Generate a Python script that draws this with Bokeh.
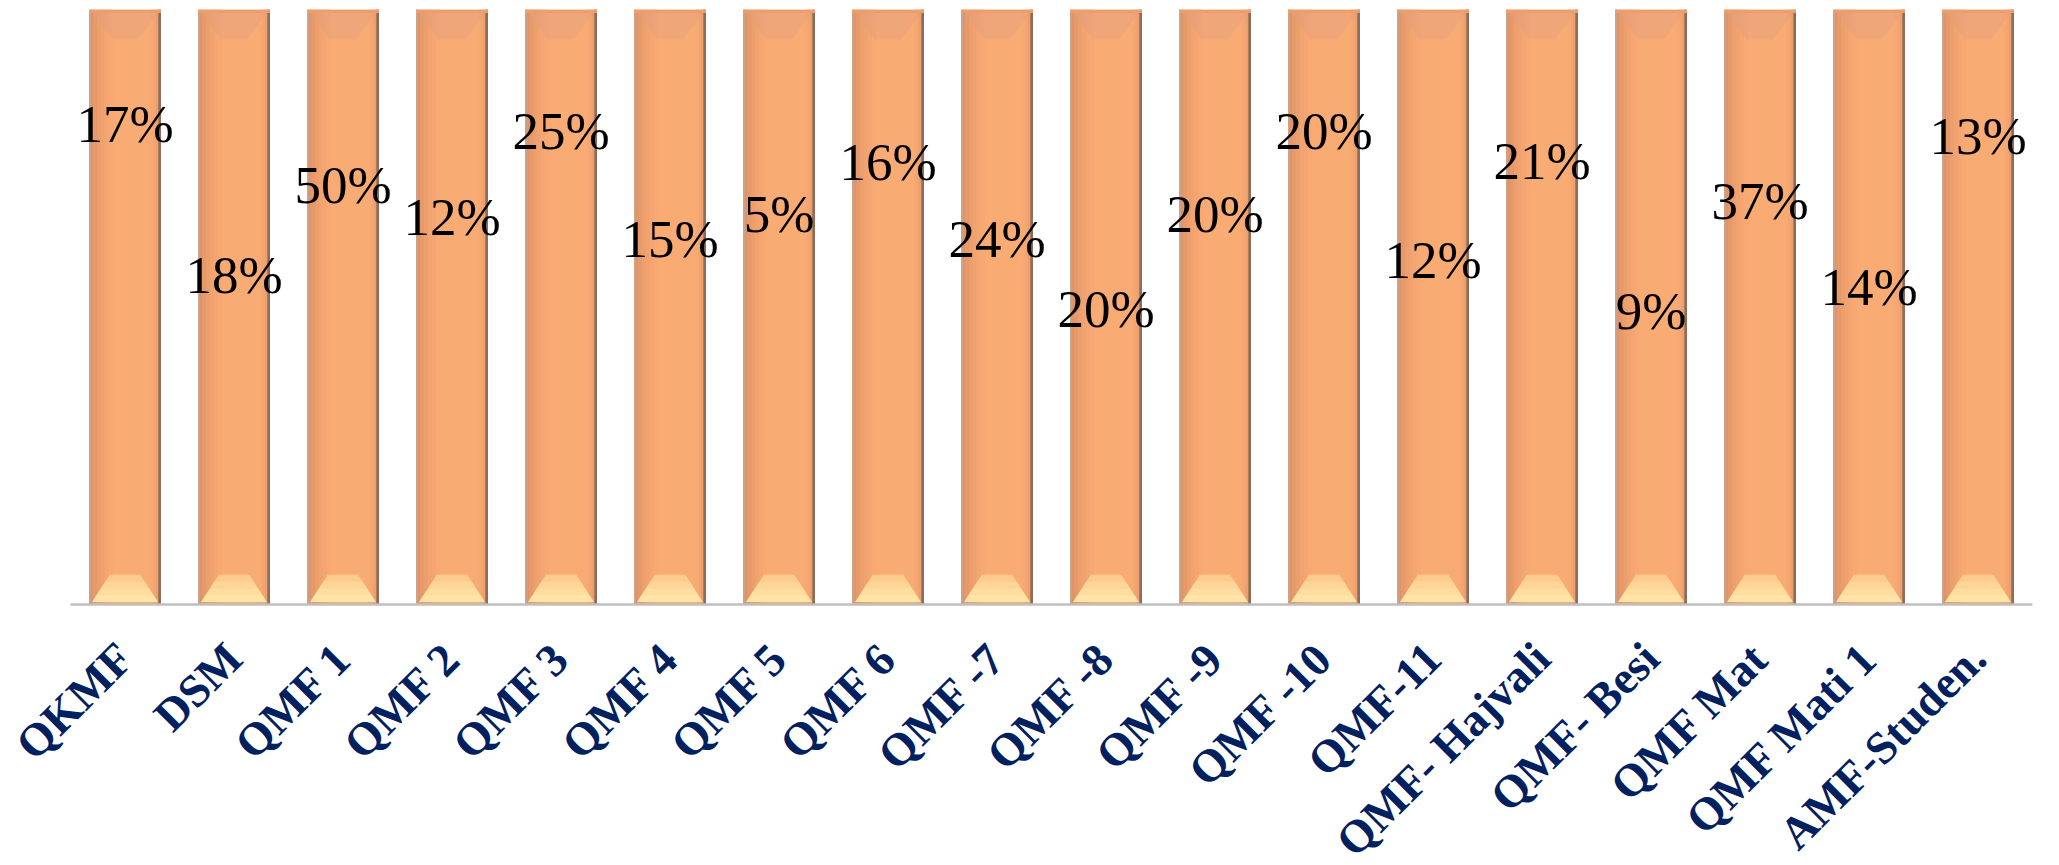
import math
from bokeh.plotting import figure
from bokeh.models import ColumnDataSource, Range1d, FixedTicker
from bokeh.core.properties import value
from bokeh.embed import file_html
from bokeh.resources import INLINE

# ---------------- data ----------------
categories = ["QKMF", "DSM", "QMF 1", "QMF 2", "QMF 3", "QMF 4", "QMF 5", "QMF 6",
              "QMF -7", "QMF -8", "QMF -9", "QMF -10", "QMF-11", "QMF- Hajvali",
              "QMF- Besi", "QMF Mat", "QMF Mati 1", "AMF-Studen."]
bar_values = [100] * 18                      # every bar is full (100 %)
label_values = [17, 18, 50, 12, 25, 15, 5, 16, 24, 20, 20, 20, 12, 21, 9, 37, 14, 13]
label_height = [80.8, 55.4, 70.5, 65.2, 79.5, 61.4, 65.7, 74.4, 61.4, 49.7,
                65.7, 79.6, 57.9, 74.6, 49.3, 67.8, 53.4, 78.8]   # % of bar height

# ---------------- derived ----------------
n = len(categories)
xs = list(range(n))
tops = [v / 100 for v in bar_values]
BW = 0.66

p = figure(frame_width=1962, frame_height=595, output_backend="svg", toolbar_location=None,
           x_range=Range1d(-0.5, n - 0.5), y_range=Range1d(0, 1.0),
           min_border_left=70, min_border_right=14, min_border_top=9,
           min_border_bottom=0)
p.outline_line_color = None
p.background_fill_color = "white"
p.border_fill_color = "white"
p.xgrid.visible = False
p.ygrid.visible = False
p.yaxis.visible = False

# main bar body with a soft horizontal gradient made of strips
base = ColumnDataSource(dict(x=xs, top=tops))
p.vbar(x="x", top="top", bottom=0, width=BW, source=base,
       fill_color="#F9AB74", line_color=None)

strip_cols = ["#E0946A", "#E6996B", "#EC9E6D", "#F0A26F", "#F4A571", "#F7A873"]
k = len(strip_cols)
sw = BW * 0.33 / k
for j, c in enumerate(strip_cols):
    sx = [x - BW / 2 + sw * (j + 0.5) for x in xs]
    p.vbar(x=sx, top=tops, bottom=0, width=sw, fill_color=c, line_color=None)
rcols = ["#F7A973", "#F3A470", "#EC9E6D", "#E4976A"]
rw = BW * 0.14 / len(rcols)
for j, c in enumerate(rcols):
    sx = [x + BW / 2 - BW * 0.14 + rw * (j + 0.5) for x in xs]
    p.vbar(x=sx, top=tops, bottom=0, width=rw, fill_color=c, line_color=None)

# top bevel (slightly darker) and bottom bevel (light, graded)
top_xs, top_ys = [], []
for x, t in zip(xs, tops):
    top_xs.append([x - BW / 2 + 0.03, x + BW / 2 - 0.03, x + 0.12, x - 0.12])
    top_ys.append([t - 0.006, t - 0.006, t - 0.05, t - 0.05])
p.patches(top_xs, top_ys, fill_color="#E3A07E", fill_alpha=0.45, line_color=None)

bev_cols = ["#FCCB8E", "#FDD596", "#FEDD9E", "#FFE4A8"]
for j, c in enumerate(bev_cols):
    f = j / len(bev_cols)
    hw_bot = BW / 2 - 0.03
    hw_top = 0.14
    y0 = 0.004
    y1 = 0.05 * (1 - f) + y0 * f
    hw1 = hw_top + (hw_bot - hw_top) * f
    bx = [[x - hw_bot, x + hw_bot, x + hw1, x - hw1] for x in xs]
    by = [[y0, y0, y1, y1] for _ in xs]
    p.patches(bx, by, fill_color=c, line_color=None)

# edges
p.vbar(x=[x - BW / 2 + 0.008 for x in xs], top=tops, bottom=0, width=0.016,
       fill_color="#C7A58C", line_color=None)
p.vbar(x=[x + BW / 2 - 0.012 for x in xs], top=tops, bottom=0, width=0.024,
       fill_color="#8C6C56", line_color=None)
p.vbar(x=xs, top=tops, bottom=[t - 0.006 for t in tops], width=BW,
       fill_color="#EE9E6C", line_color=None)

# data labels
lab = ColumnDataSource(dict(x=xs, y=[h / 100 for h in label_height],
                            t=[f"{v}%" for v in label_values]))
p.text(x="x", y="y", text="t", source=lab, text_font=value("Liberation Serif"),
       text_font_size="53px", text_color="black", text_align="center",
       text_baseline="middle")

# x axis
ax = p.xaxis[0]
ax.ticker = FixedTicker(ticks=xs)
ax.major_label_overrides = {i: c for i, c in enumerate(categories)}
ax.major_label_orientation = math.pi / 4
ax.major_label_text_font = "Liberation Serif"
ax.major_label_text_font_style = "bold"
ax.major_label_text_font_size = "46px"
ax.major_label_text_color = "#002060"
ax.major_label_standoff = 40
ax.axis_line_color = "#BFBFBF"
ax.axis_line_width = 2.5
ax.major_tick_line_color = None
ax.minor_tick_line_color = None

open("out.html", "w").write(file_html(p, INLINE))
